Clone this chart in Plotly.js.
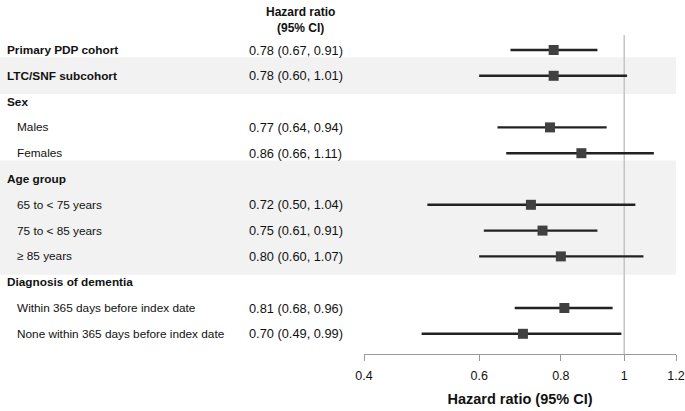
<!DOCTYPE html>
<html>
<head>
<meta charset="utf-8">
<script src="https://cdn.plot.ly/plotly-3.0.1.min.js"></script>
<style>html,body{margin:0;padding:0;background:#fff;}#chart{width:685px;height:411px;}</style>
</head>
<body>
<div id="chart"></div>
<script>
// ---- data ----
const labels = ["Primary PDP cohort", "LTC/SNF subcohort", "Sex", "Males", "Females",
  "Age group", "65 to < 75 years", "75 to < 85 years", "≥ 85 years",
  "Diagnosis of dementia", "Within 365 days before index date", "None within 365 days before index date"];
const isHeading = [true, true, true, false, false, true, false, false, false, true, false, false];
const hr = [0.78, 0.78, null, 0.77, 0.86, null, 0.72, 0.75, 0.80, null, 0.81, 0.70];
const lo = [0.67, 0.60, null, 0.64, 0.66, null, 0.50, 0.61, 0.60, null, 0.68, 0.49];
const hi = [0.91, 1.01, null, 0.94, 1.11, null, 1.04, 0.91, 1.07, null, 0.96, 0.99];
const tickVals = [0.4, 0.6, 0.8, 1, 1.2];
const tickText = ["0.4", "0.6", "0.8", "1", "1.2"];
const shadedRows = [[1, 1], [5, 8]]; // first/last row index of shaded groups

// ---- layout helpers ----
const W = 685, H = 411;
const FONT = "Liberation Sans, Arial, Helvetica, sans-serif";
const rows = labels.map((_, i) => i);
const esc = s => s.replace(/&/g, "&amp;").replace(/</g, "&lt;").replace(/>/g, "&gt;");

const pts = rows.filter(i => hr[i] !== null);
const trace = {
  type: "scatter",
  mode: "markers",
  x: pts.map(i => hr[i]),
  y: pts,
  marker: {symbol: "square", size: 10, color: "#404040"},
  error_x: {
    type: "data", symmetric: false,
    array: pts.map(i => hi[i] - hr[i]),
    arrayminus: pts.map(i => hr[i] - lo[i]),
    width: 0, thickness: 2.4, color: "#222"
  },
  hoverinfo: "skip",
  showlegend: false
};

const annotations = [];
rows.forEach(i => {
  annotations.push({
    xref: "paper", yref: "y", x: (isHeading[i] ? 5 : 15) / W, y: i,
    xanchor: "left", yanchor: "middle", showarrow: false,
    text: isHeading[i] ? "<b>" + esc(labels[i]) + "</b>" : esc(labels[i]),
    font: {family: FONT, size: 11.8, color: "#111"}
  });
  if (hr[i] !== null) {
    annotations.push({
      xref: "paper", yref: "y", x: 247 / W, y: i,
      xanchor: "left", yanchor: "middle", showarrow: false,
      text: hr[i].toFixed(2) + " (" + lo[i].toFixed(2) + ", " + hi[i].toFixed(2) + ")",
      font: {family: FONT, size: 12.8, color: "#111"}
    });
  }
});
annotations.push({
  xref: "paper", yref: "paper", x: 300 / W, y: 1 - 3 / H,
  xanchor: "center", yanchor: "top", showarrow: false, align: "center",
  text: "<b>Hazard ratio<br>(95% CI)</b>",
  font: {family: FONT, size: 12, color: "#111"}
});

const shapes = shadedRows.map(g => ({
  type: "rect", layer: "below", xref: "paper", yref: "y",
  x0: 0, x1: 676 / W, y0: g[0] - 0.72, y1: g[1] + 0.71,
  fillcolor: "#f2f2f2", line: {width: 0}
}));
shapes.push({
  type: "line", layer: "below", xref: "x", yref: "paper",
  x0: 1, x1: 1, y0: (H - 354) / H, y1: (H - 35) / H,
  line: {color: "#c4c4c4", width: 1.5}
});

const yBottom = 354, yTop = 30;
const layout = {
  width: W, height: H,
  margin: {l: 0, r: 0, t: 0, b: 0},
  paper_bgcolor: "#fff", plot_bgcolor: "rgba(0,0,0,0)",
  font: {family: FONT, size: 12, color: "#111"},
  xaxis: {
    type: "log",
    range: [Math.log10(0.4), Math.log10(1.2)],
    domain: [364 / W, 676 / W],
    tickvals: tickVals, ticktext: tickText,
    showgrid: false, zeroline: false,
    showline: true, linecolor: "#9a9a9a", linewidth: 1,
    ticks: "outside", ticklen: 6, tickcolor: "#9a9a9a",
    ticklabelstandoff: 4,
    tickfont: {family: FONT, size: 12.5, color: "#111"},
    title: {text: "<b>Hazard ratio (95% CI)</b>", font: {family: FONT, size: 14.5, color: "#111"}, standoff: 11},
    fixedrange: true
  },
  yaxis: {
    range: [(yBottom - 50) / 25.8, (yTop - 50) / 25.8],
    domain: [(H - yBottom) / H, (H - yTop) / H],
    visible: false, showgrid: false, zeroline: false, fixedrange: true
  },
  shapes: shapes,
  annotations: annotations
};

Plotly.newPlot("chart", [trace], layout, {displayModeBar: false, staticPlot: true});
</script>
</body>
</html>
